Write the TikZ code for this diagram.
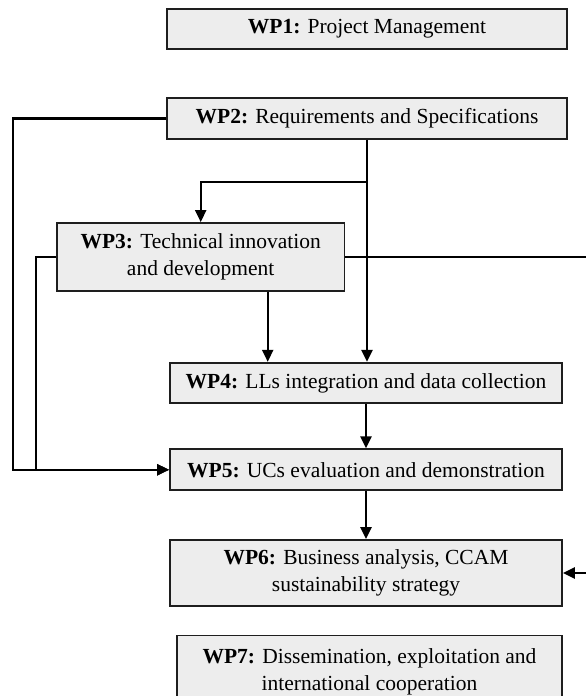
\documentclass[tikz,border=0pt]{standalone}
\usepackage{fontspec}
\setmainfont{Liberation Serif}
\usetikzlibrary{arrows.meta}

\definecolor{wpfill}{HTML}{EDEDED}
\definecolor{wpline}{HTML}{1E1E1E}

\begin{document}
\begin{tikzpicture}
  [x=1pt,y=1pt,
   wp/.style={rectangle,draw=wpline,fill=wpfill,line width=1.8pt,inner sep=0pt,
              align=center,font=\fontsize{21.5}{26.7}\selectfont},
   arr/.style={line width=2.3pt,-{Triangle[length=12pt,width=11pt]}}]
  \useasboundingbox (0,0) rectangle (586,696);
  \clip (0,0) rectangle (586,696);

  \node[wp,minimum width=400,minimum height=40] (wp1) at (367,667) {\textbf{WP1:} Project Management};
  \node[wp,minimum width=400,minimum height=41] (wp2) at (367,577.5) {\textbf{WP2:} Requirements and Specifications};
  \node[wp,minimum width=287.5,minimum height=68] (wp3) at (200.7,439) {\textbf{WP3:} Technical innovation\\and development};
  \node[wp,minimum width=392,minimum height=40.5] (wp4) at (366,313) {\textbf{WP4:} LLs integration and data collection};
  \node[wp,minimum width=392,minimum height=41] (wp5) at (366,226.2) {\textbf{WP5:} UCs evaluation and demonstration};
  \node[wp,minimum width=392,minimum height=66] (wp6) at (366,123) {\textbf{WP6:} Business analysis, CCAM\\sustainability strategy};
  \node[wp,minimum width=385,minimum height=72] (wp7) at (369.5,24.5) {\textbf{WP7:} Dissemination, exploitation and\\international cooperation};

  \draw[arr] (wp2.west) -- ++(-153,0) |- (wp5.west);
  \draw[arr] (wp3.west) -- ++(-20,0) |- (wp5.west);
  \draw[arr] (wp2.south) -- ++(0,-42) -| (wp3.north);
  \draw[arr] (wp2.south) -- (wp2.south |- wp4.north);
  \draw[arr] ([xshift=67]wp3.south) -- ([xshift=67]wp3.south |- wp4.north);
  \draw[arr] (wp3.east) -- ++(270,0) |- (wp6.east);
  \draw[arr] (wp4) -- (wp5);
  \draw[arr] (wp5) -- (wp6);

\end{tikzpicture}
\end{document}
